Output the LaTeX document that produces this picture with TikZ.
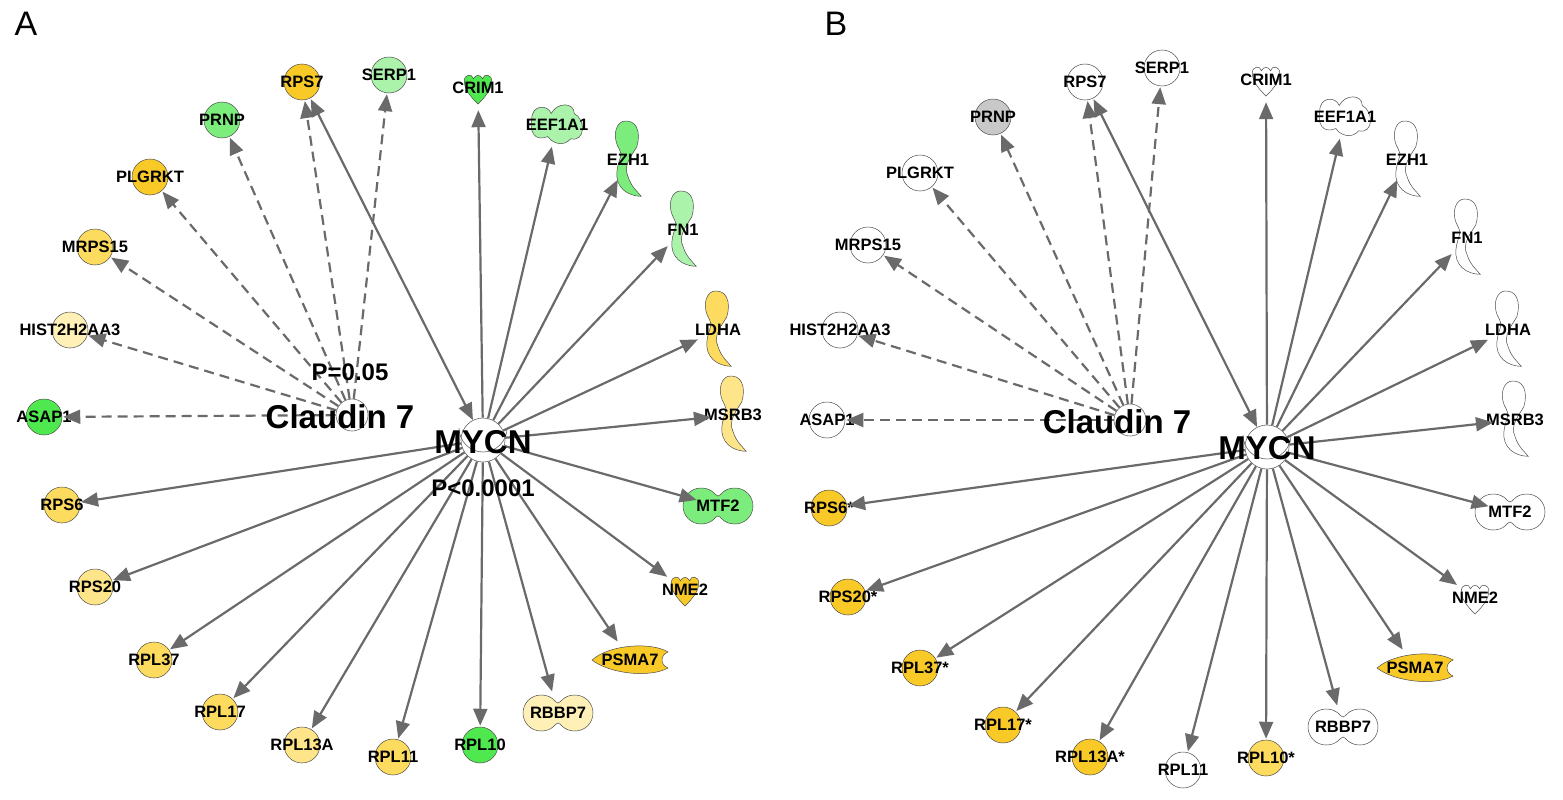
\documentclass[tikz,border=0pt]{standalone}
\usepackage{fontspec}
\setmainfont{Liberation Sans}
\usetikzlibrary{arrows.meta}
\definecolor{ydk}{HTML}{F9C928}
\definecolor{ymd}{HTML}{FDDB5E}
\definecolor{ylt}{HTML}{FFE58A}
\definecolor{ypl}{HTML}{FFF0B8}
\definecolor{gbr}{HTML}{4FE84F}
\definecolor{gmd}{HTML}{7CEC7C}
\definecolor{glt}{HTML}{ABF2AB}
\definecolor{gry}{HTML}{C8C8C8}
\definecolor{edge}{HTML}{6A6A6A}
\tikzset{
 gc/.style={circle,draw=black!70,line width=0.5pt,minimum size=36pt,inner sep=0pt},
 gn/.style={circle,minimum size=42pt,inner sep=0pt},
 lbl/.style={font=\fontsize{16.5}{16.5}\selectfont\bfseries,inner sep=0pt},
 e/.style={draw=edge,line width=2.2pt,-{Triangle[length=17pt,width=14pt]},shorten >=1pt},
 de/.style={e,dash pattern=on 10pt off 6pt},
 sh/.style={draw=black!70,line width=0.5pt},
 pics/cres/.style={code={\begin{scope}[y=1pt,scale=1.1]
  \path[sh,fill=#1] (-5,35) .. controls (8,38) and (12,25) .. (8,12) .. controls (4,5) and (-5,-5) .. (0,-15) .. controls (3,-25) and (10,-30) .. (12,-33) .. controls (0,-33) and (-12,-25) .. (-10,-10) .. controls (-9,0) and (-4,5) .. (-8,10) .. controls (-14,20) and (-12,32) .. (-5,35) -- cycle;
 \end{scope}}},
 pics/dumb/.style={code={\begin{scope}[y=1pt]
  \path[sh,fill=#1] (-17,18) .. controls (-5,18) and (-3,10) .. (0,10) .. controls (3,10) and (5,18) .. (17,18) arc[start angle=90,end angle=-90,radius=18] .. controls (5,-18) and (3,-10) .. (0,-10) .. controls (-3,-10) and (-5,-18) .. (-17,-18) arc[start angle=270,end angle=90,radius=18] -- cycle;
 \end{scope}}},
 pics/lens/.style={code={\begin{scope}[y=1pt]
  \path[sh,fill=#1] (-38,0) .. controls (-20,16) and (22,18) .. (38,8) .. controls (30,5) and (30,-5) .. (38,-8) .. controls (20,-18) and (-20,-14) .. (-38,0) -- cycle;
 \end{scope}}},
 pics/tref/.style={code={\begin{scope}[y=1pt,scale=1.15]
  \path[sh,fill=#1] (0,-14) .. controls (-8,-6) and (-12,0) .. (-12,6) .. controls (-12,12) and (-5,13) .. (-4,8) .. controls (-2,12) and (2,12) .. (4,8) .. controls (5,13) and (12,12) .. (12,6) .. controls (12,0) and (8,-6) .. (0,-14) -- cycle;
 \end{scope}}},
 pics/blob/.style={code={\begin{scope}[y=1pt,scale=1.15]
  \path[sh,fill=#1] (-22,5) .. controls (-22,18) and (-8,18) .. (-5,10) .. controls (0,20) and (15,20) .. (15,10) .. controls (25,5) and (25,-15) .. (12,-12) .. controls (5,-20) and (-5,-15) .. (-8,-10) .. controls (-20,-15) and (-24,-5) .. (-22,5) -- cycle;
 \end{scope}}},
}
\newcommand\gcirc[5]{\node[gc,fill=#4] (#1) at (#2,#3) {}; \node[lbl] at (#1) {#5};}
\newcommand\gshape[6]{\pic at (#2,#3) {#4=#5}; \node[gn] (#1) at (#2,#3) {}; \node[lbl] at (#1) {#6};}
\begin{document}
\begin{tikzpicture}[x=1pt,y=-1pt]
\useasboundingbox (0,0) rectangle (1563,800);
\node[font=\fontsize{34}{34}\selectfont] at (26,24) {A};
\node[font=\fontsize{34}{34}\selectfont] at (836,24) {B};
% ---------- Panel A ----------
\node[circle,draw=black!60,line width=0.6pt,minimum size=44pt,inner sep=0pt] (aM) at (483,440) {};
\draw[black!60,line width=0.6pt] (459,428) arc[start angle=180,end angle=0,radius=24];
\node[circle,draw=black!60,line width=0.6pt,minimum size=32pt,inner sep=0pt,fill=white] (aC) at (352,415) {};
\gcirc{aRPS7}{302}{82}{ydk}{RPS7}
\gcirc{aSERP1}{389}{75}{glt}{SERP1}
\gshape{aCRIM1}{478}{88}{tref}{gbr}{CRIM1}
\gshape{aEEF1A1}{557}{125}{blob}{glt}{EEF1A1}
\gshape{aEZH1}{628}{160}{cres}{gmd}{EZH1}
\gshape{aFN1}{683}{230}{cres}{glt}{FN1}
\gshape{aLDHA}{718}{330}{cres}{ymd}{LDHA}
\gshape{aMSRB3}{733}{415}{cres}{ylt}{MSRB3}
\gshape{aMTF2}{718}{506}{dumb}{gmd}{MTF2}
\gshape{aNME2}{685}{590}{tref}{ydk}{NME2}
\gshape{aPSMA7}{630}{660}{lens}{ydk}{PSMA7}
\gshape{aRBBP7}{558}{713}{dumb}{ypl}{RBBP7}
\gcirc{aRPL10}{480}{745}{gbr}{RPL10}
\gcirc{aRPL11}{393}{757}{ymd}{RPL11}
\gcirc{aRPL13A}{302}{745}{ylt}{RPL13A}
\gcirc{aRPL17}{220}{712}{ymd}{RPL17}
\gcirc{aRPL37}{154}{660}{ymd}{RPL37}
\gcirc{aRPS20}{95}{587}{ylt}{RPS20}
\gcirc{aRPS6}{62}{505}{ymd}{RPS6}
\gcirc{aASAP1}{44}{417}{gbr}{ASAP1}
\gcirc{aHIST}{70}{330}{ypl}{HIST2H2AA3}
\gcirc{aMRPS15}{95}{247}{ymd}{MRPS15}
\gcirc{aPLGRKT}{150}{177}{ydk}{PLGRKT}
\gcirc{aPRNP}{222}{120}{gmd}{PRNP}
\foreach \t in {aRPS7,aSERP1,aPRNP,aPLGRKT,aMRPS15,aHIST,aASAP1}{\draw[de] (aC) -- (\t);}
\foreach \t in {aCRIM1,aEEF1A1,aEZH1,aFN1,aLDHA,aMSRB3,aMTF2,aNME2,aPSMA7,aRBBP7,aRPL10,aRPL11,aRPL13A,aRPL17,aRPL37,aRPS20,aRPS6}{\draw[e] (aM) -- (\t);}
\draw[e,{Triangle[length=17pt,width=14pt]}-{Triangle[length=17pt,width=14pt]}] (aM) -- (aRPS7);
\node[font=\fontsize{33}{33}\selectfont\bfseries] (aCl) at (340,417) {Claudin 7};
\node[font=\fontsize{33}{33}\selectfont\bfseries] (aMl) at (483,442) {MYCN};
\node[font=\fontsize{24}{24}\selectfont\bfseries] (aP1) at (350,372) {P=0.05};
\node[font=\fontsize{24}{24}\selectfont\bfseries] (aP2) at (483,488) {P<0.0001};
% ---------- Panel B ----------
\node[circle,draw=black!60,line width=0.6pt,minimum size=44pt,inner sep=0pt] (bM) at (1267,447) {};
\draw[black!60,line width=0.6pt] (1243,435) arc[start angle=180,end angle=0,radius=24];
\node[circle,draw=black!60,line width=0.6pt,minimum size=32pt,inner sep=0pt,fill=white] (bC) at (1130,420) {};
\gcirc{bRPS7}{1085}{82}{white}{RPS7}
\gcirc{bSERP1}{1162}{68}{white}{SERP1}
\gshape{bCRIM1}{1266}{80}{tref}{white}{CRIM1}
\gshape{bEEF1A1}{1345}{117}{blob}{white}{EEF1A1}
\gshape{bEZH1}{1407}{160}{cres}{white}{EZH1}
\gshape{bFN1}{1467}{238}{cres}{white}{FN1}
\gshape{bLDHA}{1508}{330}{cres}{white}{LDHA}
\gshape{bMSRB3}{1515}{420}{cres}{white}{MSRB3}
\gshape{bMTF2}{1510}{512}{dumb}{white}{MTF2}
\gshape{bNME2}{1475}{598}{tref}{white}{NME2}
\gshape{bPSMA7}{1415}{668}{lens}{ydk}{PSMA7}
\gshape{bRBBP7}{1343}{727}{dumb}{white}{RBBP7}
\gcirc{bRPL10}{1266}{758}{ymd}{RPL10*}
\gcirc{bRPL11}{1183}{770}{white}{RPL11}
\gcirc{bRPL13A}{1090}{757}{ydk}{RPL13A*}
\gcirc{bRPL17}{1003}{725}{ydk}{RPL17*}
\gcirc{bRPL37}{920}{668}{ydk}{RPL37*}
\gcirc{bRPS20}{848}{597}{ydk}{RPS20*}
\gcirc{bRPS6}{829}{508}{ydk}{RPS6*}
\gcirc{bASAP1}{827}{420}{white}{ASAP1}
\gcirc{bHIST}{840}{330}{white}{HIST2H2AA3}
\gcirc{bMRPS15}{868}{245}{white}{MRPS15}
\gcirc{bPLGRKT}{920}{173}{white}{PLGRKT}
\gcirc{bPRNP}{993}{117}{gry}{PRNP}
\foreach \t in {bRPS7,bSERP1,bPRNP,bPLGRKT,bMRPS15,bHIST,bASAP1}{\draw[de] (bC) -- (\t);}
\foreach \t in {bCRIM1,bEEF1A1,bEZH1,bFN1,bLDHA,bMSRB3,bMTF2,bNME2,bPSMA7,bRBBP7,bRPL10,bRPL11,bRPL13A,bRPL17,bRPL37,bRPS20,bRPS6}{\draw[e] (bM) -- (\t);}
\draw[e,{Triangle[length=17pt,width=14pt]}-{Triangle[length=17pt,width=14pt]}] (bM) -- (bRPS7);
\node[font=\fontsize{33}{33}\selectfont\bfseries] (bCl) at (1117,422) {Claudin 7};
\node[font=\fontsize{33}{33}\selectfont\bfseries] (bMl) at (1267,448) {MYCN};
\end{tikzpicture}
\end{document}
